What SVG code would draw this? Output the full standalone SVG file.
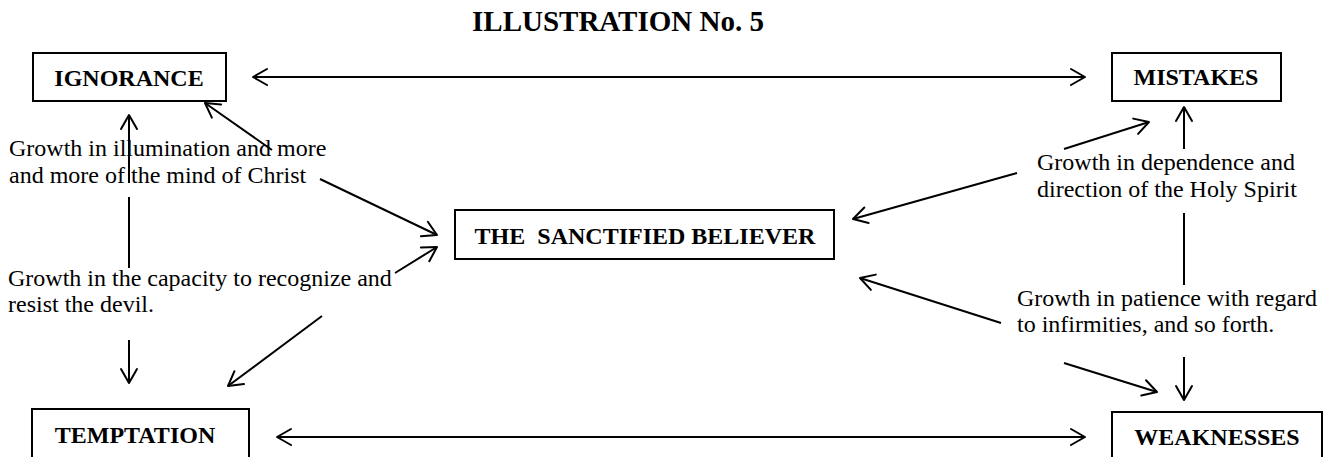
<svg xmlns="http://www.w3.org/2000/svg" width="1334" height="457" viewBox="0 0 1334 457">
<style>
.box{fill:#fff;stroke:#000;stroke-width:2}
.lbl{font-family:"Liberation Serif","Times New Roman",serif;font-weight:bold;font-size:24px;fill:#000}
.txt{font-family:"Liberation Serif","Times New Roman",serif;font-size:24px;fill:#000}
.ttl{font-family:"Liberation Serif","Times New Roman",serif;font-weight:bold;font-size:29px;fill:#000}
.ln{stroke:#000;stroke-width:2;fill:none}
.arr{stroke:#000;stroke-width:2;fill:none;marker-end:url(#ah)}
.arr2{stroke:#000;stroke-width:2;fill:none;marker-start:url(#ah);marker-end:url(#ah)}
</style>
<defs>
<marker id="ah" viewBox="0 0 20 20" refX="18" refY="10" markerWidth="20" markerHeight="20" markerUnits="userSpaceOnUse" orient="auto-start-reverse">
<path d="M4,2 L18,10 L4,18" stroke="#000" stroke-width="2" fill="none" stroke-linecap="round" stroke-linejoin="round"/>
</marker>
</defs>
<rect width="1334" height="457" fill="#fff"/>
<text class="ttl" x="472" y="31">ILLUSTRATION No. 5</text>

<g id="connectors">
<line class="arr2" x1="253" y1="77" x2="1085" y2="77"/>
<line class="arr2" x1="277" y1="437" x2="1085" y2="437"/>
<line class="arr" x1="129" y1="183" x2="129" y2="115"/>
<line class="ln" x1="129" y1="197" x2="129" y2="268"/>
<line class="arr" x1="129" y1="340" x2="129" y2="383"/>
<line class="arr" x1="272" y1="150" x2="205" y2="103"/>
<line class="arr" x1="320" y1="179" x2="437" y2="235"/>
<line class="arr" x1="395" y1="273" x2="437" y2="247"/>
<line class="arr" x1="322" y1="316" x2="228" y2="386"/>
<line class="arr" x1="1184" y1="149" x2="1184" y2="107"/>
<line class="ln" x1="1184" y1="213" x2="1184" y2="285"/>
<line class="arr" x1="1184" y1="357" x2="1184" y2="400"/>
<line class="arr" x1="1064" y1="149" x2="1149" y2="122"/>
<line class="arr" x1="1017" y1="173" x2="853" y2="219"/>
<line class="arr" x1="1001" y1="323" x2="860" y2="278"/>
<line class="arr" x1="1064" y1="363" x2="1157" y2="392"/>
</g>

<g id="ignorance">
<rect class="box" x="33" y="53" width="193" height="48"/>
<text class="lbl" x="129" y="86" text-anchor="middle">IGNORANCE</text>
</g>
<g id="mistakes">
<rect class="box" x="1112" y="53" width="169" height="48"/>
<text class="lbl" x="1196" y="85" text-anchor="middle">MISTAKES</text>
</g>
<g id="believer">
<rect class="box" x="455" y="210" width="379" height="49"/>
<text class="lbl" x="645" y="244" text-anchor="middle" xml:space="preserve">THE  SANCTIFIED BELIEVER</text>
</g>
<g id="temptation">
<rect class="box" x="32" y="409" width="217" height="60"/>
<text class="lbl" x="135" y="443" text-anchor="middle">TEMPTATION</text>
</g>
<g id="weaknesses">
<rect class="box" x="1112" y="412" width="210" height="60"/>
<text class="lbl" x="1217" y="445" text-anchor="middle">WEAKNESSES</text>
</g>

<g id="label-illumination">
<text class="txt" x="9" y="156">Growth in illumination and more</text>
<text class="txt" x="9" y="183">and more of the mind of Christ</text>
</g>
<g id="label-capacity">
<text class="txt" x="8" y="286">Growth in the capacity to recognize and</text>
<text class="txt" x="8" y="312">resist the devil.</text>
</g>
<g id="label-dependence">
<text class="txt" x="1037" y="170">Growth in dependence and</text>
<text class="txt" x="1037" y="197">direction of the Holy Spirit</text>
</g>
<g id="label-patience">
<text class="txt" x="1017" y="306">Growth in patience with regard</text>
<text class="txt" x="1017" y="332">to infirmities, and so forth.</text>
</g>
</svg>
